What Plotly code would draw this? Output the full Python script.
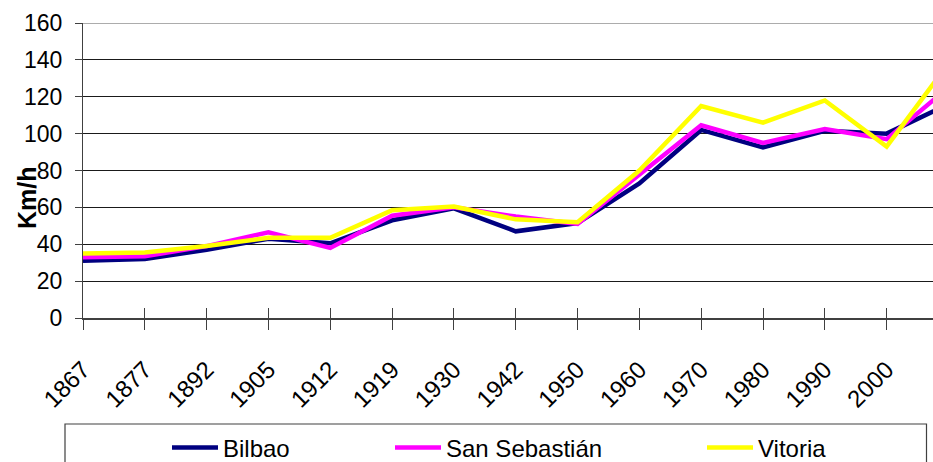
import plotly.graph_objects as go

# Average train speed by city (km/h)
years = ["1867", "1877", "1892", "1905", "1912", "1919", "1930", "1942",
         "1950", "1960", "1970", "1980", "1990", "2000", "2007"]
bilbao = [31, 32, 37, 43, 40.5, 53, 59.5, 47, 51.5, 73, 102, 92.5, 101.5, 100, 116]
san_sebastian = [33, 33.5, 39, 46.5, 38, 55.5, 60, 55, 51, 78, 104.5, 95, 102.5, 97, 125]
vitoria = [35, 35.5, 39, 43.5, 43.5, 58.5, 60.5, 53.5, 52, 80, 115, 106, 118, 93, 138]

series = [
    ("Bilbao", bilbao, "#000080"),
    ("San Sebastián", san_sebastian, "#FF00FF"),
    ("Vitoria", vitoria, "#FFFF00"),
]
y_ticks = list(range(0, 161, 20))

W, H = 933, 462
ML, MR, MT, MB = 83, 0, 23, 144
PW, PH = W - ML - MR, H - MT - MB
FONT = "Liberation Sans, Arial, sans-serif"


def px_x(px):
    return (px - ML) / PW


def px_y(py):
    return (H - MB - py) / PH


idx = list(range(len(years)))
fig = go.Figure()
legend_names = ["legend", "legend2", "legend3"]
for (name, vals, color), lg in zip(series, legend_names):
    fig.add_trace(go.Scatter(
        x=idx, y=vals, name=name, mode="lines",
        line=dict(color=color, width=4.5),
        legend=lg, showlegend=True, cliponaxis=True,
    ))

# overlay axis carrying the upper half of the crossing x ticks
fig.add_trace(go.Scatter(x=[], y=[], xaxis="x2", showlegend=False))

fig.update_layout(
    width=W, height=H,
    margin=dict(l=ML, r=MR, t=MT, b=MB, pad=0, autoexpand=False),
    paper_bgcolor="white", plot_bgcolor="white",
    font=dict(family=FONT, color="black"),
    showlegend=True,
    xaxis=dict(
        range=[0, 13.75], tickmode="array", tickvals=idx, ticktext=years,
        tickangle=-45, tickfont=dict(family=FONT, size=24, color="black"),
        ticks="outside", ticklen=10, tickwidth=1, tickcolor="#404040",
        showline=True, linecolor="#404040", linewidth=2,
        showgrid=False, zeroline=False, ticklabelstandoff=16,
        automargin=False,
    ),
    xaxis2=dict(
        overlaying="x", matches="x", range=[0, 13.75],
        tickmode="array", tickvals=idx, showticklabels=False,
        ticks="inside", ticklen=10, tickwidth=1, tickcolor="#404040",
        showline=False, showgrid=False, zeroline=False, side="bottom",
        automargin=False,
    ),
    yaxis=dict(
        range=[0, 160], tickvals=y_ticks, tickfont=dict(family=FONT, size=23, color="black"),
        ticks="outside", ticklen=7, tickwidth=1, tickcolor="#404040",
        showline=True, linecolor="#404040", linewidth=1.3,
        showgrid=True, gridcolor="#1a1a1a", gridwidth=1,
        zeroline=False, ticklabelstandoff=8, automargin=False,
    ),
    shapes=[
        # lighter top gridline
        dict(type="line", xref="paper", yref="y", x0=0, x1=1, y0=160, y1=160,
             line=dict(color="#909090", width=1.5), layer="above"),
        # legend frame
        dict(type="rect", xref="paper", yref="paper",
             x0=px_x(65), x1=px_x(926.5), y0=px_y(470), y1=px_y(424),
             line=dict(color="#404040", width=1.2), fillcolor="rgba(0,0,0,0)"),
    ],
    annotations=[
        dict(text="<b>Km/h</b>", xref="paper", yref="paper",
             x=px_x(27), y=px_y(197), textangle=-90, showarrow=False,
             font=dict(family=FONT, size=25, color="black"),
             xanchor="center", yanchor="middle"),
    ],
)

legend_left = [167, 390, 702]
for lg, left in zip(legend_names, legend_left):
    fig.update_layout({lg: dict(
        xref="container", yref="container",
        x=left / W, xanchor="left", y=(H - 448) / H, yanchor="middle",
        orientation="h", bgcolor="rgba(0,0,0,0)", borderwidth=0,
        font=dict(family=FONT, size=24, color="black"),
        itemwidth=46,
    )})

fig.write_html("out.html")
